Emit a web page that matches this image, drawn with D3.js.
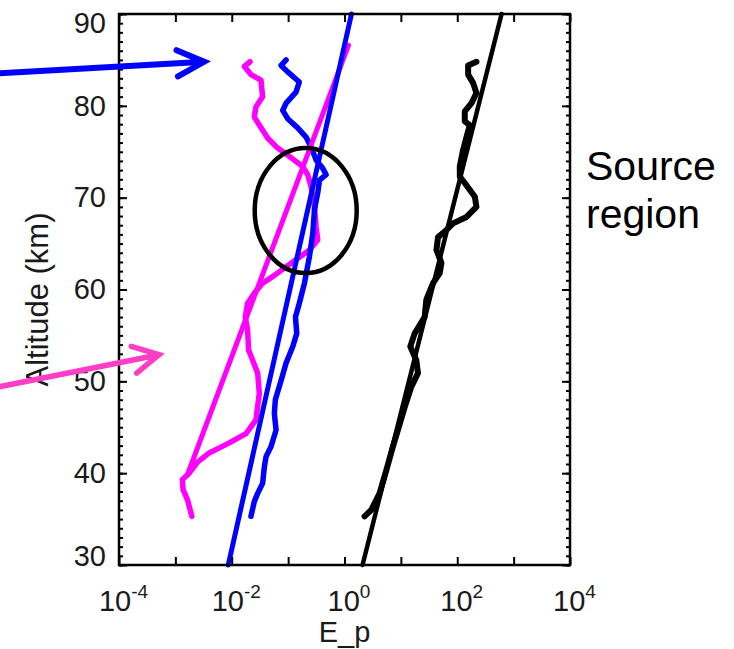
<!DOCTYPE html>
<html>
<head>
<meta charset="utf-8">
<script src="https://cdn.jsdelivr.net/npm/d3@7"></script>
<style>
  html, body { margin: 0; padding: 0; background: #fff; }
  svg { display: block; font-family: "Liberation Sans", Arial, sans-serif; }
</style>
</head>
<body>
<svg id="chart" width="734" height="649"></svg>
<script>
// ---------------- data ----------------
const xTickValues = [1e-4, 1e-3, 1e-2, 1e-1, 1e0, 1e1, 1e2, 1e3, 1e4];
const xTickLabels = ["-4", "", "-2", "", "0", "", "2", "", "4"];
const yTickValues = [30, 40, 50, 60, 70, 80, 90];

// magenta profile
const magentaAlt = [84.8, 84.3, 83.4, 82.8, 81.0, 79.9, 78.8, 77.9, 76.5, 75.4, 74.5, 73.4, 72.5, 71.2, 69.0, 66.8, 65.4, 64.3, 63.0, 61.4, 60.7, 59.6, 58.5, 57.0, 55.6, 53.4, 50.9, 48.7, 45.8, 44.3, 43.3, 42.2, 41.2, 40.0, 39.3, 38.2, 37.1, 35.3];
const magentaEp  = [0.0211, 0.0167, 0.0219, 0.0330, 0.0353, 0.0269, 0.0251, 0.0308, 0.0433, 0.0652, 0.105, 0.181, 0.223, 0.256, 0.293, 0.314, 0.335, 0.239, 0.121, 0.0531, 0.0353, 0.0251, 0.0191, 0.0174, 0.0191, 0.0199, 0.0288, 0.0308, 0.0269, 0.0179, 0.00903, 0.00398, 0.00247, 0.00176, 0.00133, 0.00137, 0.00164, 0.00196];

// blue profile
const blueAlt = [85.0, 84.4, 83.7, 82.6, 81.5, 80.3, 79.5, 78.6, 77.6, 76.6, 75.5, 74.1, 73.2, 72.5, 71.9, 70.5, 68.7, 66.1, 63.6, 60.7, 58.5, 57.0, 55.2, 53.8, 52.0, 50.1, 48.0, 46.5, 44.7, 42.9, 41.8, 40.7, 38.9, 37.8, 36.9, 35.3];
const blueEp  = [0.0921, 0.0750, 0.0982, 0.158, 0.138, 0.0921, 0.0802, 0.0982, 0.148, 0.208, 0.256, 0.314, 0.411, 0.473, 0.360, 0.335, 0.293, 0.274, 0.239, 0.195, 0.158, 0.135, 0.142, 0.121, 0.0921, 0.0750, 0.0593, 0.0570, 0.0611, 0.0498, 0.0406, 0.0379, 0.0353, 0.0288, 0.0251, 0.0219];

// black profile
const blackAlt = [84.8, 84.4, 83.4, 82.5, 81.4, 80.3, 79.4, 78.3, 77.9, 76.6, 75.2, 73.4, 72.3, 71.6, 70.1, 69.0, 67.9, 67.2, 66.3, 65.7, 64.3, 62.9, 61.8, 60.7, 58.9, 57.0, 55.2, 53.8, 52.3, 50.9, 49.4, 47.2, 44.7, 42.9, 40.3, 37.8, 36.0, 35.3];
const blackEp  = [219, 156, 156, 191, 219, 179, 136, 136, 167, 146, 127, 111, 111, 136, 205, 219, 146, 84.2, 60.0, 45.6, 42.7, 52.4, 48.9, 37.2, 28.3, 26.4, 17.5, 14.7, 18.8, 20.1, 15.3, 11.7, 8.87, 7.23, 5.51, 4.19, 2.99, 2.27];

// straight-line fits
const blueFitAlt = [30, 90];
const blueFitEp = [0.00867, 1.33];
const magentaFitAlt = [39.8, 86.6];
const magentaFitEp = [0.00163, 1.18];
const blackFitAlt = [30, 90];
const blackFitEp = [2.09, 611];

// annotations (data coordinates)
const circleCenter = [0.205, 68.6];
const blueArrowFrom = [6e-7, 83.5];
const blueArrowTo = [0.00324, 84.8];
const pinkArrowFrom = [7.4e-7, 49.4];
const pinkArrowTo = [5.14e-4, 52.9];
const sideText = ["Source", "region"];

// ---------------- layout ----------------
const svg = d3.select("#chart");
const L = 119, R = 570, T = 14, B = 565;
const x = d3.scaleLog().domain([1e-4, 1e4]).range([L, R]);
const y = d3.scaleLinear().domain([30, 90]).range([B, T]);

const zip = (xs, ys) => xs.map((v, i) => ({ e: v, a: ys[i] }));
const line = d3.line().x(d => x(d.e)).y(d => y(d.a));

const plot = svg.append("g");

function drawLine(data, color, width) {
  plot.append("path")
    .datum(data)
    .attr("d", line)
    .attr("fill", "none")
    .attr("stroke", color)
    .attr("stroke-width", width)
    .attr("stroke-linejoin", "round")
    .attr("stroke-linecap", "round");
}

drawLine(zip(blackFitEp, blackFitAlt), "#000", 4.5);
drawLine(zip(blackEp, blackAlt), "#000", 6);
drawLine(zip(magentaEp, magentaAlt), "#ff00ff", 5.5);
drawLine(zip(blueEp, blueAlt), "#0000ff", 5.5);
drawLine(zip(magentaFitEp, magentaFitAlt), "#ff00ff", 5);
drawLine(zip(blueFitEp, blueFitAlt), "#0000ff", 5);

// ellipse annotation
svg.append("ellipse")
  .attr("cx", x(circleCenter[0]))
  .attr("cy", y(circleCenter[1]))
  .attr("rx", 51)
  .attr("ry", 62.5)
  .attr("fill", "none")
  .attr("stroke", "#000")
  .attr("stroke-width", 4.5);

// ---------------- axes ----------------
const axG = svg.append("g").attr("class", "axes");

// frame
axG.append("rect")
  .attr("x", L).attr("y", T)
  .attr("width", R - L).attr("height", B - T)
  .attr("fill", "none").attr("stroke", "#000").attr("stroke-width", 2.5);

function styleAxis(g) {
  g.select(".domain").remove();
  g.selectAll(".tick line").attr("stroke", "#000").attr("stroke-width", 2);
}

// y minor ticks (every km)
const yMinor = d3.range(30, 91, 1);
axG.append("g").attr("transform", `translate(${L},0)`)
  .call(d3.axisLeft(y).tickValues(yMinor).tickSize(-4).tickFormat(""))
  .call(styleAxis);
axG.append("g").attr("transform", `translate(${R},0)`)
  .call(d3.axisRight(y).tickValues(yMinor).tickSize(-4).tickFormat(""))
  .call(styleAxis);

// y major ticks with labels
const yAxisL = axG.append("g").attr("transform", `translate(${L},0)`)
  .call(d3.axisLeft(y).tickValues(yTickValues).tickSizeInner(-8).tickSizeOuter(0).tickPadding(13).tickFormat(d3.format("d")))
  .call(styleAxis);
yAxisL.selectAll(".tick text")
  .attr("font-size", 29).attr("fill", "#1a1a1a")
  .attr("font-family", "Liberation Sans, Arial, sans-serif")
  .attr("dy", d => d === 90 ? "0.64em" : (d === 30 ? "0.02em" : "0.32em"));

axG.append("g").attr("transform", `translate(${R},0)`)
  .call(d3.axisRight(y).tickValues(yTickValues).tickSize(-8).tickFormat(""))
  .call(styleAxis);

// x ticks
const xAxisB = axG.append("g").attr("transform", `translate(0,${B})`)
  .call(d3.axisBottom(x).tickValues(xTickValues).tickSizeInner(-8).tickSizeOuter(0).tickPadding(20).tickFormat(""))
  .call(styleAxis);
axG.append("g").attr("transform", `translate(0,${T})`)
  .call(d3.axisTop(x).tickValues(xTickValues).tickSize(-8).tickFormat(""))
  .call(styleAxis);

// x tick labels as 10 with superscript exponent
xAxisB.selectAll(".tick").each(function (d, i) {
  const exp = xTickLabels[i];
  if (exp === "") return;
  const t = d3.select(this).append("text")
    .attr("x", 4)
    .attr("y", 46)
    .attr("text-anchor", "middle")
    .attr("fill", "#1a1a1a")
    .attr("font-size", 29)
    .attr("font-family", "Liberation Sans, Arial, sans-serif");
  t.append("tspan").text("10");
  t.append("tspan").attr("dy", -13).attr("font-size", 19).text(exp);
});

// axis titles
svg.append("text")
  .attr("x", x(1)).attr("y", 642)
  .attr("text-anchor", "middle")
  .attr("font-size", 29).attr("fill", "#1a1a1a")
  .text("E_p");

svg.append("text")
  .attr("transform", `translate(48,${(T + B) / 2 + 10}) rotate(-90)`)
  .attr("text-anchor", "middle")
  .attr("font-size", 31).attr("fill", "#1a1a1a")
  .text("Altitude (km)");

// side text
sideText.forEach((s, i) => {
  svg.append("text")
    .attr("x", 586).attr("y", 180 + i * 48)
    .attr("font-size", 41).attr("fill", "#000")
    .text(s);
});

// ---------------- arrows ----------------
function arrow(from, to, color, width, spread, len) {
  const x0 = x(from[0]), y0 = y(from[1]), x1 = x(to[0]), y1 = y(to[1]);
  const ang = Math.atan2(y0 - y1, x0 - x1);
  const s = spread * Math.PI / 180;
  const a1 = [x1 + len * Math.cos(ang + s), y1 + len * Math.sin(ang + s)];
  const a2 = [x1 + len * Math.cos(ang - s), y1 + len * Math.sin(ang - s)];
  const p = d3.path();
  p.moveTo(x0, y0); p.lineTo(x1, y1);
  p.moveTo(a1[0], a1[1]); p.lineTo(x1, y1); p.lineTo(a2[0], a2[1]);
  svg.append("path")
    .attr("d", p.toString())
    .attr("fill", "none")
    .attr("stroke", color)
    .attr("stroke-width", width)
    .attr("stroke-linecap", "round")
    .attr("stroke-linejoin", "miter");
}
arrow(blueArrowFrom, blueArrowTo, "#0000ff", 6, 26, 30);
arrow(pinkArrowFrom, pinkArrowTo, "#ff3ec8", 5.5, 28, 29);
</script>
</body>
</html>
